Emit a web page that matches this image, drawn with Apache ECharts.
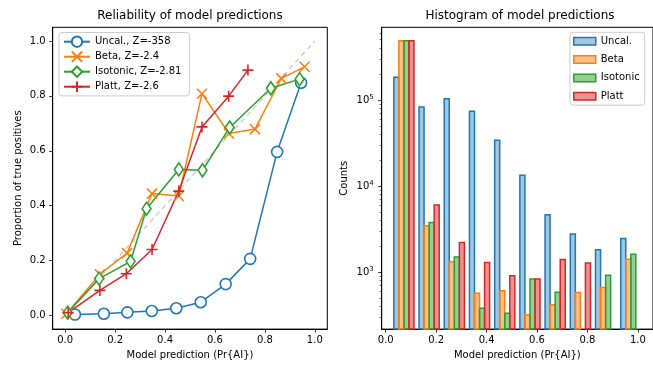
<!DOCTYPE html>
<html>
<head>
<meta charset="utf-8">
<script src="https://cdn.jsdelivr.net/npm/echarts@6/dist/echarts.min.js"></script>
<style>
  html, body { margin: 0; padding: 0; background: #fff; }
  #chart { width: 653px; height: 365px; }
</style>
</head>
<body>
<div id="chart"></div>
<script>
// Reliability curves (mean prediction per bin vs. fraction of positives)
const uncalX = [0.039, 0.155, 0.249, 0.347, 0.445, 0.543, 0.643, 0.741, 0.849, 0.945];
const uncalY = [0.003, 0.006, 0.011, 0.016, 0.026, 0.048, 0.114, 0.206, 0.596, 0.848];
const betaX  = [0.005, 0.139, 0.248, 0.348, 0.455, 0.548, 0.656, 0.760, 0.866, 0.959];
const betaY  = [0.006, 0.150, 0.227, 0.444, 0.435, 0.808, 0.663, 0.679, 0.864, 0.906];
const isoX   = [0.010, 0.136, 0.262, 0.326, 0.455, 0.550, 0.659, 0.824, 0.939];
const isoY   = [0.010, 0.134, 0.197, 0.389, 0.532, 0.529, 0.685, 0.828, 0.861];
const plattX = [0.012, 0.139, 0.245, 0.348, 0.455, 0.548, 0.655, 0.732];
const plattY = [0.010, 0.091, 0.152, 0.240, 0.453, 0.687, 0.799, 0.894];
const diagX  = [0, 1];
const diagY  = [0, 1];

// Histogram of predictions: shared bin edges and counts per method
const binEdges   = [0.022, 0.122, 0.222, 0.322, 0.422, 0.522, 0.622, 0.722, 0.822, 0.922, 1.022];
const histUncal  = [183000, 83000, 103500, 73600, 33900, 13300, 4640, 2770, 1815, 2460];
const histBeta   = [486000, 3450, 1318, 570, 606, 319, 417, 580, 662, 1416];
const histIso    = [486000, 3780, 1494, 381, 333, 830, 585, 0, 923, 1610];
const histPlatt  = [486000, 6010, 2208, 1294, 906, 830, 1403, 1273, 0, 0];

const curveNames = ['Uncal., Z=-358', 'Beta, Z=-2.4', 'Isotonic, Z=-2.81', 'Platt, Z=-2.6'];
const histNames  = ['Uncal.', 'Beta', 'Isotonic', 'Platt'];
const unitTicks  = [0, 0.2, 0.4, 0.6, 0.8, 1.0];
const logTicks   = [1000, 10000, 100000];

const C = ['#1f77b4', '#ff7f0e', '#2ca02c', '#d62728'];
const FILL = ['rgba(31,119,180,0.42)', 'rgba(255,127,14,0.5)', 'rgba(44,160,44,0.5)', 'rgba(214,39,40,0.5)'];
const FONT = 'DejaVu Sans';

const zip = (xs, ys) => xs.map((x, i) => [x, ys[i]]);

const X_PATH = 'path://M0,0L10,10M10,0L0,10';
const PLUS_PATH = 'path://M5,0L5,10M0,5L10,5';
const THIN_DIAMOND = 'path://M3.4,0L6.8,5L3.4,10L0,5Z';

function curve(name, xs, ys, color, symbol, size, fill) {
  return {
    type: 'line', name: name, xAxisIndex: 0, yAxisIndex: 0,
    data: zip(xs, ys),
    symbol: symbol, symbolSize: size, symbolKeepAspect: true,
    showAllSymbol: true,
    lineStyle: { color: color, width: 1.5 },
    itemStyle: { color: fill, borderColor: color, borderWidth: 1.6 },
    emphasis: { disabled: true },
    z: 3
  };
}

// Minor ticks for the log axis (2..9 times each power of ten)
const minorTicks = [];
for (let e = 2; e <= 5; e++) {
  for (let m = 2; m <= 9; m++) {
    const v = m * Math.pow(10, e);
    if (v > 218 && v < 697000) minorTicks.push(v);
  }
}

// One custom series per method; bars are 1/5 of the bin width, grouped in the middle 80%
function histSeries(idx, counts) {
  const data = [];
  counts.forEach((c, i) => {
    if (c > 0) {
      const w = binEdges[i + 1] - binEdges[i];
      const x0 = binEdges[i] + w * (0.1 + 0.2 * idx);
      data.push([x0, x0 + w * 0.2, c]);
    }
  });
  return {
    type: 'custom', name: histNames[idx], xAxisIndex: 1, yAxisIndex: 1,
    data: data,
    itemStyle: { color: FILL[idx], borderColor: C[idx], borderWidth: 1.5 },
    encode: { x: [0, 1], y: 2 },
    renderItem: function (params, api) {
      const p0 = api.coord([api.value(0), api.value(2)]);
      const p1 = api.coord([api.value(1), api.value(2)]);
      const bottom = params.coordSys.y + params.coordSys.height;
      return {
        type: 'rect',
        shape: { x: p0[0], y: p0[1], width: p1[0] - p0[0], height: bottom - p0[1] },
        style: { fill: FILL[idx], stroke: C[idx], lineWidth: 1.5 }
      };
    },
    z: 2
  };
}

const axisCommon = {
  axisLine: { show: true, onZero: false, lineStyle: { color: '#000', width: 1 } },
  axisTick: { show: true, length: 3.5, lineStyle: { color: '#000', width: 0.8 } },
  splitLine: { show: false },
  axisLabel: { color: '#000', fontFamily: FONT, fontSize: 10 },
  nameTextStyle: { color: '#000', fontFamily: FONT, fontSize: 10 }
};

function unitAxis(extra) {
  return Object.assign({}, axisCommon, {
    type: 'value', min: -0.05, max: 1.05,
    axisTick: Object.assign({}, axisCommon.axisTick, { customValues: unitTicks }),
    axisLabel: Object.assign({}, axisCommon.axisLabel, {
      customValues: unitTicks, formatter: v => v.toFixed(1)
    })
  }, extra);
}

const chart = echarts.init(document.getElementById('chart'), null, { renderer: 'canvas' });

chart.setOption({
  animation: false,
  backgroundColor: '#fff',
  textStyle: { fontFamily: FONT },
  grid: [
    { left: 52.7, top: 27.3, width: 274.6, height: 302, show: true, borderColor: '#000', borderWidth: 1, backgroundColor: 'transparent' },
    { left: 381.7, top: 27.3, width: 277.5, height: 302, show: true, borderColor: '#000', borderWidth: 1, backgroundColor: 'transparent' }
  ],
  graphic: [
    { type: 'text', x: 190, y: 16, z: 10,
      style: { text: 'Reliability of model predictions', font: '12px "DejaVu Sans"', fill: '#000', align: 'center', verticalAlign: 'middle' } },
    { type: 'text', x: 520, y: 16, z: 10,
      style: { text: 'Histogram of model predictions', font: '12px "DejaVu Sans"', fill: '#000', align: 'center', verticalAlign: 'middle' } }
  ],
  legend: [
    {
      data: curveNames, orient: 'vertical', left: 59, top: 32.5,
      itemWidth: 26, itemHeight: 13, itemGap: 2.6,
      padding: [3, 8, 3, 4],
      borderColor: '#cccccc', borderWidth: 1, borderRadius: 3,
      backgroundColor: 'rgba(255,255,255,0.85)',
      textStyle: { color: '#000', fontFamily: FONT, fontSize: 10 },
      selectedMode: false
    },
    {
      data: histNames.map((n, i) => ({ name: n, icon: 'rect', itemStyle: { color: FILL[i], borderColor: C[i], borderWidth: 1.5 } })),
      orient: 'vertical', left: 570, top: 32.3,
      itemWidth: 22, itemHeight: 7.5, itemGap: 8.3,
      padding: [4, 5, 4, 3],
      borderColor: '#cccccc', borderWidth: 1, borderRadius: 3,
      backgroundColor: 'rgba(255,255,255,0.85)',
      textStyle: { color: '#000', fontFamily: FONT, fontSize: 10 },
      selectedMode: false
    }
  ],
  xAxis: [
    unitAxis({ gridIndex: 0, name: 'Model prediction (Pr{AI})', nameLocation: 'middle', nameGap: 20,
      axisLabel: Object.assign({}, axisCommon.axisLabel, { customValues: unitTicks, formatter: v => v.toFixed(1), margin: 6 }) }),
    Object.assign({}, axisCommon, {
      type: 'value', gridIndex: 1, min: -0.016, max: 1.06,
      name: 'Model prediction (Pr{AI})', nameLocation: 'middle', nameGap: 20,
      axisTick: Object.assign({}, axisCommon.axisTick, { customValues: unitTicks }),
      axisLabel: Object.assign({}, axisCommon.axisLabel, { customValues: unitTicks, formatter: v => v.toFixed(1), margin: 6 })
    })
  ],
  yAxis: [
    unitAxis({ gridIndex: 0, name: 'Proportion of true positives', nameLocation: 'middle', nameGap: 29,
      axisLabel: Object.assign({}, axisCommon.axisLabel, { customValues: unitTicks, formatter: v => v.toFixed(1), margin: 7 }) }),
    Object.assign({}, axisCommon, {
      type: 'log', gridIndex: 1, min: 218, max: 697000, logBase: 10, position: 'left',
      name: 'Counts', nameLocation: 'middle', nameGap: 32,
      axisTick: Object.assign({}, axisCommon.axisTick, { customValues: logTicks }),
      axisLabel: Object.assign({}, axisCommon.axisLabel, {
        customValues: logTicks, margin: 8,
        formatter: v => '10{s|' + Math.round(Math.log10(v)) + '}',
        rich: { s: { fontSize: 7, fontFamily: FONT, color: '#000', padding: [0, 0, 6, 0] } }
      })
    }),
    {
      type: 'log', gridIndex: 1, min: 218, max: 697000, logBase: 10, position: 'left', offset: 0,
      axisLine: { show: false, onZero: false },
      axisTick: { show: true, length: 2, customValues: minorTicks, lineStyle: { color: '#000', width: 0.6 } },
      axisLabel: { show: false },
      splitLine: { show: false }
    }
  ],
  series: [
    {
      type: 'line', name: 'diag', xAxisIndex: 0, yAxisIndex: 0,
      data: zip(diagX, diagY), symbol: 'none',
      lineStyle: { color: '#cfcfcf', width: 1.5, type: [5, 4] },
      emphasis: { disabled: true }, z: 1, silent: true
    },
    curve(curveNames[0], uncalX, uncalY, C[0], 'circle', 11, '#fff'),
    curve(curveNames[1], betaX, betaY, C[1], X_PATH, 10, 'rgba(0,0,0,0)'),
    curve(curveNames[2], isoX, isoY, C[2], THIN_DIAMOND, 13, '#fff'),
    curve(curveNames[3], plattX, plattY, C[3], PLUS_PATH, 11, 'rgba(0,0,0,0)'),
    histSeries(0, histUncal),
    histSeries(1, histBeta),
    histSeries(2, histIso),
    histSeries(3, histPlatt)
  ]
});
</script>
</body>
</html>
